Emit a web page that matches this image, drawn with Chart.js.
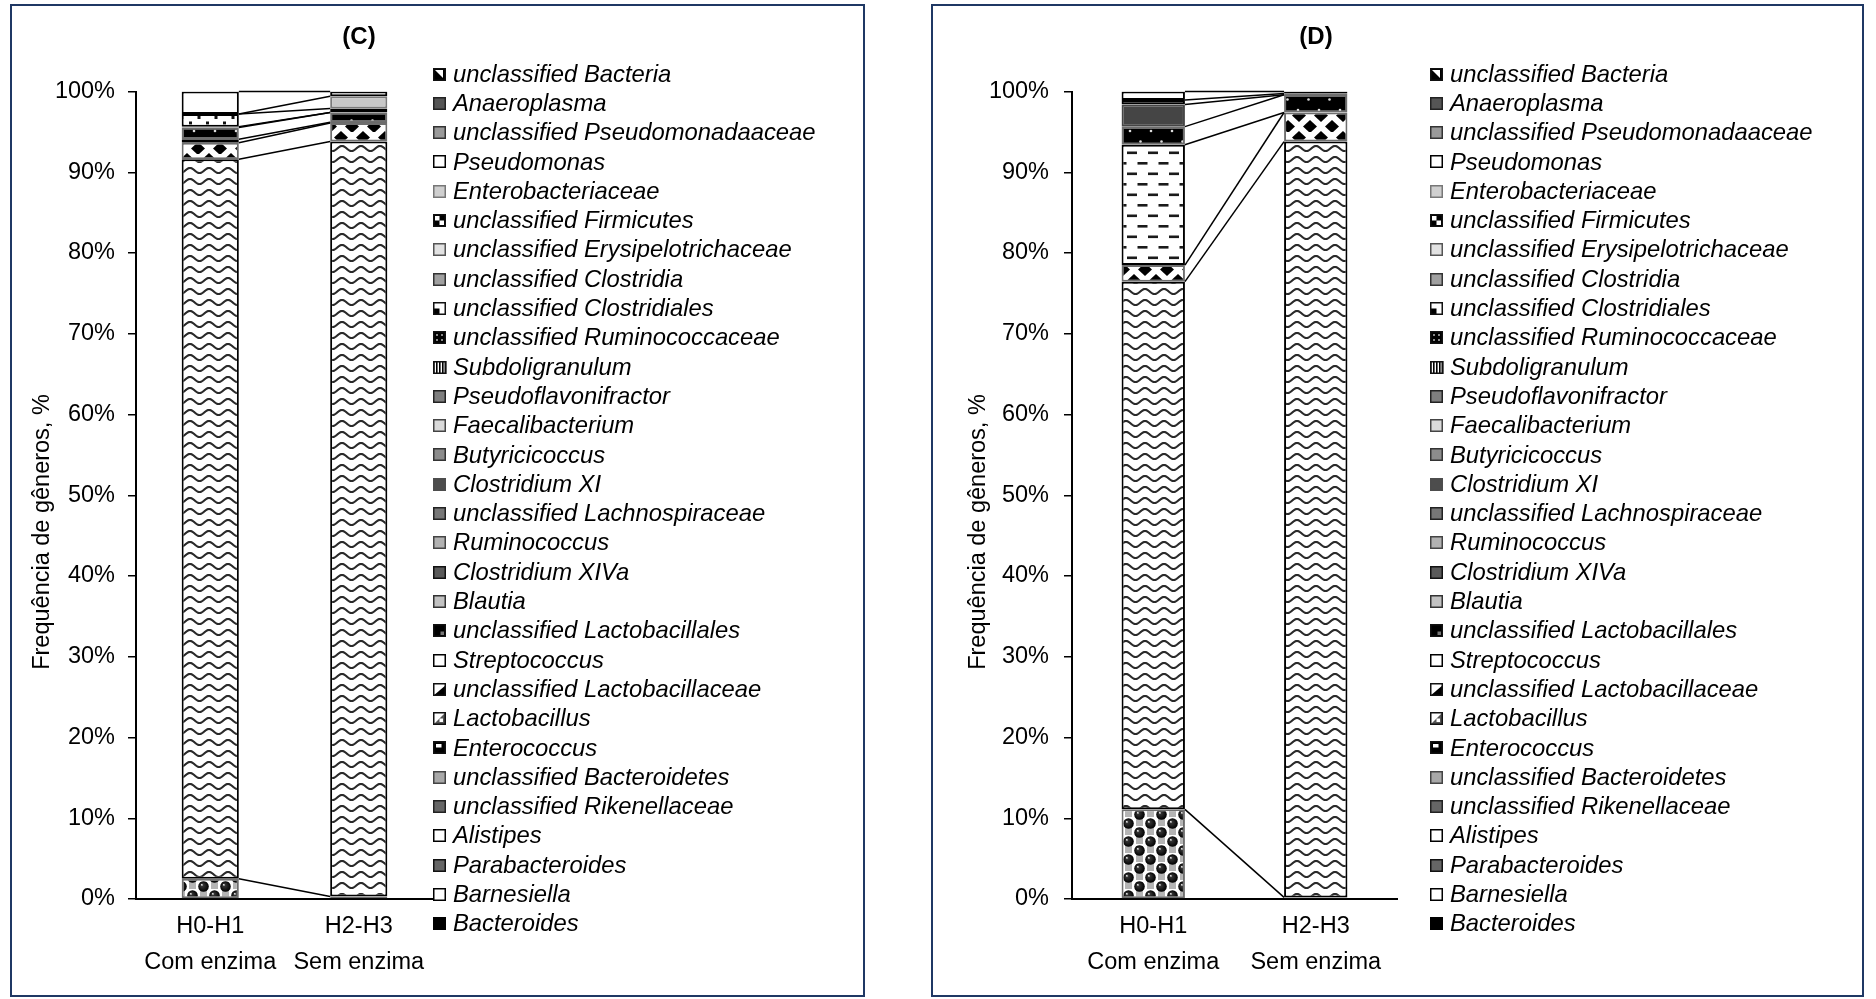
<!DOCTYPE html>
<html lang="pt">
<head>
<meta charset="utf-8">
<title>Frequência de gêneros – (C) e (D)</title>
<script src="https://cdn.jsdelivr.net/npm/chart.js@4.4.1/dist/chart.umd.min.js"></script>
<style>
  html, body { margin: 0; padding: 0; background: #fff; }
  body { position: relative; width: 1876px; height: 999px; overflow: hidden; }
  .panel { position: absolute; top: 4px; height: 993px; border: 2px solid #1f3864; box-sizing: border-box; }
  #panelC { left: 10px; width: 855px; }
  #panelD { left: 931px; width: 933px; }
  canvas { position: absolute; top: 0; }
  #chartC { left: 0; }
  #chartD { left: 936px; }
</style>
</head>
<body>
<div class="panel" id="panelC"></div>
<div class="panel" id="panelD"></div>
<canvas id="chartC" width="880" height="999"></canvas>
<canvas id="chartD" width="925" height="999"></canvas>
<script>
// ── Data ─────────────────────────────────────────────────────────────────────
const groups = ['H0-H1', 'H2-H3'];
const treatments = ['Com enzima', 'Sem enzima'];

// stack order, bottom → top (legend lists them top → bottom)
const genera = [
  'Bacteroides', 'Barnesiella', 'Parabacteroides', 'Alistipes',
  'unclassified Rikenellaceae', 'unclassified Bacteroidetes', 'Enterococcus',
  'Lactobacillus', 'unclassified Lactobacillaceae', 'Streptococcus',
  'unclassified Lactobacillales', 'Blautia', 'Clostridium XIVa', 'Ruminococcus',
  'unclassified Lachnospiraceae', 'Clostridium XI', 'Butyricicoccus',
  'Faecalibacterium', 'Pseudoflavonifractor', 'Subdoligranulum',
  'unclassified Ruminococcaceae', 'unclassified Clostridiales',
  'unclassified Clostridia', 'unclassified Erysipelotrichaceae',
  'unclassified Firmicutes', 'Enterobacteriaceae', 'Pseudomonas',
  'unclassified Pseudomonadaaceae', 'Anaeroplasma', 'unclassified Bacteria'
];

// panel (C), % per genus in the order above
const cComEnzima = [2.5, 0, 0, 0, 0, 0, 0, 89.1, 2.05, 0.45, 1.45, 0.1, 0, 0, 0, 0, 0, 0, 0, 0, 0, 0, 0, 0, 1.55, 0, 2.8, 0, 0, 0];
const cSemEnzima = [0.3, 0, 0, 0, 0, 0, 0, 93.5, 2.3, 0.1, 1.2, 0, 0, 0, 0, 0, 0, 0, 0, 0, 0, 0, 0, 0, 0.5, 1.5, 0.6, 0, 0, 0];

// panel (D)
const dComEnzima = [11.1, 0, 0, 0, 0, 0, 0, 65.35, 2.05, 14.9, 2.25, 0, 0, 0, 0, 2.75, 0, 0, 0, 0, 0.55, 0, 0, 0, 0, 0, 1.05, 0, 0, 0];
const dSemEnzima = [0.2, 0, 0, 0, 0, 0, 0, 93.6, 3.6, 0, 2.2, 0, 0, 0, 0, 0, 0, 0, 0, 0, 0.15, 0, 0, 0, 0, 0, 0.25, 0, 0, 0];

// ── Styles ───────────────────────────────────────────────────────────────────
const FONT = "'Liberation Sans', Arial, sans-serif";
Chart.defaults.font.family = FONT;
Chart.defaults.color = '#000';

const barStyle = {
  'Bacteroides':                   { fill: 'balls',      border: '#6e6e6e' },
  'Lactobacillus':                 { fill: 'wave',       border: '#000' },
  'unclassified Lactobacillaceae': { fill: 'diamonds',   border: '#6e6e6e' },
  'Streptococcus':                 { fill: 'dashes',     border: '#000' },
  'unclassified Lactobacillales':  { fill: 'blackDots',  border: '#6e6e6e' },
  'Blautia':                       { fill: '#c0c0c0',    border: '#333' },
  'Clostridium XI':                { fill: '#454545',    border: '#454545' },
  'unclassified Ruminococcaceae':  { fill: 'darkCheck',  border: '#000' },
  'unclassified Firmicutes':       { fill: 'squares',    border: '#000' },
  'Enterobacteriaceae':            { fill: '#c8c8c8',    border: '#7a7a7a' },
  'Pseudomonas':                   { fill: '#ffffff',    border: '#000' },
};

// legend swatches: solid [fill, border] or a named glyph
const swatch = {
  'unclassified Bacteria': 'tri',
  'Anaeroplasma': ['#555', '#222'],
  'unclassified Pseudomonadaaceae': ['#9a9a9a', '#333'],
  'Pseudomonas': ['#fff', '#000'],
  'Enterobacteriaceae': ['#cfcfcf', '#777'],
  'unclassified Firmicutes': 'checker',
  'unclassified Erysipelotrichaceae': ['#e2e2e2', '#555'],
  'unclassified Clostridia': ['#a0a0a0', '#333'],
  'unclassified Clostridiales': 'corner',
  'unclassified Ruminococcaceae': 'darkCheck',
  'Subdoligranulum': 'stripes',
  'Pseudoflavonifractor': ['#7e7e7e', '#222'],
  'Faecalibacterium': ['#dadada', '#444'],
  'Butyricicoccus': ['#8c8c8c', '#333'],
  'Clostridium XI': ['#4d4d4d', '#4d4d4d'],
  'unclassified Lachnospiraceae': ['#777', '#222'],
  'Ruminococcus': ['#b2b2b2', '#444'],
  'Clostridium XIVa': ['#5a5a5a', '#111'],
  'Blautia': ['#c2c2c2', '#333'],
  'unclassified Lactobacillales': 'blackGrey',
  'Streptococcus': ['#fff', '#000'],
  'unclassified Lactobacillaceae': 'halfDiag',
  'Lactobacillus': 'lightDiag',
  'Enterococcus': 'entero',
  'unclassified Bacteroidetes': ['#a8a8a8', '#444'],
  'unclassified Rikenellaceae': ['#666', '#222'],
  'Alistipes': ['#fff', '#000'],
  'Parabacteroides': ['#666', '#111'],
  'Barnesiella': ['#fff', '#000'],
  'Bacteroides': ['#000', '#000'],
};

// ── Pattern fills ────────────────────────────────────────────────────────────
function tile(ctx, w, h, paint) {
  const c = document.createElement('canvas');
  c.width = w; c.height = h;
  const p = c.getContext('2d');
  paint(p, w, h);
  return ctx.createPattern(c, 'repeat');
}

function makeFills(ctx) {
  return {
    wave: tile(ctx, 19, 11, (p, w, h) => {
      p.fillStyle = '#fff'; p.fillRect(0, 0, w, h);
      p.strokeStyle = '#2a2a2a'; p.lineWidth = 2.1;
      p.beginPath();
      for (let x = -1; x <= w + 1; x += 0.5) {
        const y = 5.5 - 2.5 * Math.cos(2 * Math.PI * x / w);
        x === -1 ? p.moveTo(x, y) : p.lineTo(x, y);
      }
      p.stroke();
    }),
    balls: tile(ctx, 22, 18, (p, w, h) => {
      p.fillStyle = '#fff'; p.fillRect(0, 0, w, h);
      p.fillStyle = '#b4b4b4';
      p.fillRect(13, 0, 7, 7); p.fillRect(2, 9, 7, 7);
      [[5.5, 4.5], [16.5, 13.5], [5.5, 22.5], [-5.5, 13.5], [27.5, 13.5], [16.5, -4.5], [-5.5, -4.5], [27.5, -4.5]].forEach(([cx, cy]) => {
        const g = p.createRadialGradient(cx - 1.8, cy - 1.8, 0.2, cx, cy, 5.3);
        g.addColorStop(0, '#f4f4f4'); g.addColorStop(0.22, '#333'); g.addColorStop(1, '#000');
        p.fillStyle = g;
        p.beginPath(); p.arc(cx, cy, 5.3, 0, Math.PI * 2); p.fill();
      });
    }),
    diamonds: tile(ctx, 22, 22, (p, w, h) => {
      p.fillStyle = '#fff'; p.fillRect(0, 0, w, h);
      p.fillStyle = '#000';
      [[11, 5.5], [11, 27.5], [0, 16.5], [22, 16.5]].forEach(([cx, cy]) => {
        p.beginPath();
        p.moveTo(cx, cy - 6.5); p.lineTo(cx + 7, cy); p.lineTo(cx, cy + 6.5); p.lineTo(cx - 7, cy);
        p.closePath(); p.fill();
      });
    }),
    dashes: tile(ctx, 21, 21, (p, w, h) => {
      p.fillStyle = '#fff'; p.fillRect(0, 0, w, h);
      p.fillStyle = '#1a1a1a';
      p.fillRect(2, 4.5, 10, 2.6);
      p.fillRect(12.5, 15, 10, 2.6);
      p.fillRect(-8.5, 15, 10, 2.6);
    }),
    blackDots: tile(ctx, 21, 21, (p, w, h) => {
      p.fillStyle = '#000'; p.fillRect(0, 0, w, h);
      p.fillStyle = '#ddd';
      p.beginPath(); p.arc(5, 5, 1.3, 0, Math.PI * 2); p.fill();
      p.beginPath(); p.arc(15.5, 15.5, 1.3, 0, Math.PI * 2); p.fill();
    }),
    squares: tile(ctx, 17, 10, (p, w, h) => {
      p.fillStyle = '#fff'; p.fillRect(0, 0, w, h);
      p.fillStyle = '#111';
      p.fillRect(2, 1.5, 3, 3); p.fillRect(10.5, 6, 3, 3);
    }),
    darkCheck: tile(ctx, 6, 6, (p, w, h) => {
      p.fillStyle = '#111'; p.fillRect(0, 0, w, h);
      p.fillStyle = '#777'; p.fillRect(1, 1, 2, 2);
    }),
  };
}

function drawSwatch(ctx, spec, x, y, s) {
  ctx.save();
  if (Array.isArray(spec)) {
    ctx.fillStyle = spec[0]; ctx.fillRect(x, y, s, s);
    ctx.strokeStyle = spec[1]; ctx.lineWidth = 1.5;
    ctx.strokeRect(x + 0.75, y + 0.75, s - 1.5, s - 1.5);
    ctx.restore();
    return;
  }
  ctx.fillStyle = '#fff'; ctx.fillRect(x, y, s, s);
  ctx.fillStyle = '#000';
  const h = s / 2;
  if (spec === 'tri') {
    ctx.fillRect(x, y, s, s);
    ctx.fillStyle = '#fff';
    ctx.beginPath(); ctx.moveTo(x + 2, y + 2); ctx.lineTo(x + s - 3, y + 2); ctx.lineTo(x + s - 3, y + s - 3); ctx.closePath(); ctx.fill();
  } else if (spec === 'checker') {
    ctx.fillRect(x, y, s, s);
    ctx.fillStyle = '#fff';
    ctx.fillRect(x + 2, y + 2, h - 2, h - 2); ctx.fillRect(x + h, y + h, h - 2, h - 2);
  } else if (spec === 'corner') {
    ctx.fillRect(x, y + h, h, h);
  } else if (spec === 'darkCheck') {
    ctx.fillRect(x, y, s, s);
    ctx.fillStyle = '#888';
    ctx.fillRect(x + 3, y + 3, 2, 2); ctx.fillRect(x + s - 5, y + 3, 2, 2);
    ctx.fillRect(x + 3, y + s - 5, 2, 2); ctx.fillRect(x + s - 5, y + s - 5, 2, 2);
  } else if (spec === 'stripes') {
    for (let i = 0; i < s; i += 3) ctx.fillRect(x + i, y, 1.6, s);
  } else if (spec === 'blackGrey') {
    ctx.fillRect(x, y, s, s);
    ctx.fillStyle = '#777'; ctx.fillRect(x + h + 1, y + h + 1, h - 3, h - 3);
  } else if (spec === 'halfDiag') {
    ctx.beginPath(); ctx.moveTo(x, y + s); ctx.lineTo(x + s, y + 2); ctx.lineTo(x + s, y + s); ctx.closePath(); ctx.fill();
  } else if (spec === 'lightDiag') {
    ctx.fillStyle = '#555';
    ctx.beginPath(); ctx.moveTo(x, y + s); ctx.lineTo(x + s, y); ctx.lineTo(x + s, y + s); ctx.closePath(); ctx.fill();
    ctx.fillStyle = '#fff'; ctx.fillRect(x + h, y + h, h - 3, h - 3);
  } else if (spec === 'entero') {
    ctx.fillRect(x, y, s, s);
    ctx.fillStyle = '#fff'; ctx.fillRect(x + 3, y + 3, h - 1, h - 3);
  }
  ctx.strokeStyle = '#111'; ctx.lineWidth = 1.5;
  ctx.strokeRect(x + 0.75, y + 0.75, s - 1.5, s - 1.5);
  ctx.restore();
}

// ── Plugins ──────────────────────────────────────────────────────────────────
// Excel-style series lines joining the top of each stacked segment
const seriesLines = {
  id: 'seriesLines',
  afterDatasetsDraw(chart) {
    const { ctx, scales: { y } } = chart;
    let top0 = 0, top1 = 0;
    ctx.save();
    ctx.strokeStyle = '#000';
    ctx.lineWidth = 1.5;
    chart.data.datasets.forEach((ds, i) => {
      top0 += ds.data[0];
      top1 += ds.data[1];
      if (!ds.data[0] && !ds.data[1]) return;
      const meta = chart.getDatasetMeta(i);
      const b0 = meta.data[0], b1 = meta.data[1];
      ctx.beginPath();
      ctx.moveTo(b0.x + b0.width / 2, y.getPixelForValue(top0));
      ctx.lineTo(b1.x - b1.width / 2, y.getPixelForValue(top1));
      ctx.stroke();
    });
    ctx.restore();
  }
};

const panelText = {
  id: 'panelText',
  afterDraw(chart, args, opts) {
    const { ctx } = chart;
    ctx.save();
    ctx.fillStyle = '#000';
    ctx.textAlign = 'center';
    ctx.textBaseline = 'middle';
    ctx.font = `bold 24px ${FONT}`;
    ctx.fillText(opts.title, opts.titleX, 37);

    ctx.save();
    ctx.translate(opts.yTitleX, 532);
    ctx.rotate(-Math.PI / 2);
    ctx.font = `23.5px ${FONT}`;
    ctx.fillText('Frequência de gêneros, %', 0, 0);
    ctx.restore();

    // legend, top → bottom is the reverse of the stack order
    ctx.textAlign = 'left';
    ctx.font = `italic 23.8px ${FONT}`;
    const names = genera.slice().reverse();
    names.forEach((name, i) => {
      const yc = 74 + i * 29.3;
      drawSwatch(ctx, swatch[name], opts.legendX, Math.round(yc - 6.5), 13);
      ctx.fillStyle = '#000';
      ctx.fillText(name, opts.legendX + 20, yc + 1);
    });
    ctx.restore();
  }
};

// ── Chart builder ────────────────────────────────────────────────────────────
function buildPanel(canvasId, com, sem, o) {
  const ctx = document.getElementById(canvasId).getContext('2d');
  const fills = makeFills(ctx);

  const datasets = genera.map((name, k) => {
    const st = barStyle[name] || { fill: '#999', border: '#333' };
    return {
      label: name,
      data: [com[k], sem[k]],
      backgroundColor: fills[st.fill] || st.fill,
      borderColor: st.border,
      borderWidth: 2,
      borderSkipped: false,
      barPercentage: o.barPct,
      categoryPercentage: 1,
    };
  });

  return new Chart(ctx, {
    type: 'bar',
    data: { labels: groups.map((g, i) => [g, treatments[i]]), datasets },
    options: {
      responsive: false,
      animation: false,
      layout: { padding: { left: 0, right: o.padRight, top: 91.5, bottom: 0 } },
      plugins: {
        legend: { display: false },
        tooltip: { enabled: false },
        panelText: { title: o.title, titleX: o.titleX, yTitleX: 43, legendX: o.legendX },
      },
      scales: {
        x: {
          stacked: true,
          grid: { display: false, drawTicks: false },
          border: { display: true, color: '#000', width: 2 },
          ticks: { font: { size: 23.5, lineHeight: '36px' }, padding: 10, maxRotation: 0, autoSkip: false },
          afterFit: s => { s.height = 100; },
        },
        y: {
          stacked: true,
          min: 0,
          max: 100,
          grid: { drawOnChartArea: false, drawTicks: true, tickLength: 8, color: '#000', lineWidth: 1.5 },
          border: { display: true, color: '#000', width: 2 },
          ticks: { stepSize: 10, font: { size: 23.5 }, padding: o.tickPad, callback: v => v + '%' },
          afterFit: s => { s.width = 136; },
        },
      },
    },
    plugins: [seriesLines, panelText],
  });
}

buildPanel('chartC', cComEnzima, cSemEnzima, { title: '(C)', titleX: 359, legendX: 433, padRight: 447, barPct: 0.385, tickPad: 13 });
buildPanel('chartD', dComEnzima, dSemEnzima, { title: '(D)', titleX: 380, legendX: 494, padRight: 464, barPct: 0.39, tickPad: 15 });
</script>
</body>
</html>
